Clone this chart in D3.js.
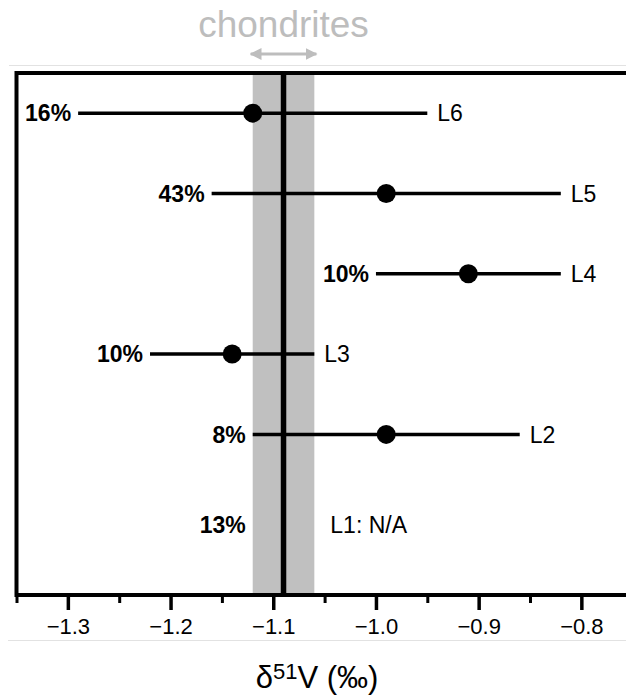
<!DOCTYPE html>
<html>
<head>
<meta charset="utf-8">
<script src="https://cdn.jsdelivr.net/npm/d3@7"></script>
<style>
  body { margin: 0; background: #fff; }
  svg { font-family: "Liberation Sans", Arial, Helvetica, sans-serif; }
</style>
</head>
<body>
<div id="chart"></div>
<script>
// groups, top to bottom
const levels = ["L6", "L5", "L4", "L3", "L2", "L1"];
const rowPos = [6, 5, 4, 3, 2, 1];
const percents = ["16%", "43%", "10%", "10%", "8%", "13%"];
const means = [-1.12, -0.99, -0.91, -1.14, -0.99, null];
const lows = [-1.29, -1.16, -1.00, -1.22, -1.12, null];
const highs = [-0.95, -0.82, -0.82, -1.06, -0.86, null];

// chondrite reference
const chondriteMean = -1.09;
const chondriteRange = [-1.12, -1.06];

const majorTicks = [-1.3, -1.2, -1.1, -1.0, -0.9, -0.8];
const minorTicks = [-1.35, -1.25, -1.15, -1.05, -0.95, -0.85, -0.75];

document.addEventListener('DOMContentLoaded', function() {
    const W = 626, H = 698;
    const svg = d3.select("#chart").append("svg")
        .attr("width", W)
        .attr("height", H);

    const x = d3.scaleLinear()
        .domain([-1.35, -0.75])
        .range([16.5, 632.7]);

    const y = d3.scaleLinear()
        .domain([0, 6.5])
        .range([595, 73]);

    const rows = levels.map((l, i) => ({
        level: l, pos: rowPos[i], pct: percents[i],
        mean: means[i], lo: lows[i], hi: highs[i]
    }));

    // faint page lines
    svg.append("line").attr("x1", 9).attr("x2", W).attr("y1", 65.5).attr("y2", 65.5)
        .attr("stroke", "#e2e2e2").attr("stroke-width", 1.2);
    svg.append("line").attr("x1", 8).attr("x2", W).attr("y1", 640.5).attr("y2", 640.5)
        .attr("stroke", "#e2e2e2").attr("stroke-width", 1.2);

    // chondrite band
    svg.append("rect")
        .attr("x", x(chondriteRange[0]))
        .attr("y", y(6.5))
        .attr("width", x(chondriteRange[1]) - x(chondriteRange[0]))
        .attr("height", y(0) - y(6.5))
        .attr("fill", "#c0c0c0");

    // chondrites label + arrow
    svg.append("text")
        .attr("x", x(chondriteMean))
        .attr("y", 37)
        .attr("text-anchor", "middle")
        .attr("font-size", 37)
        .attr("fill", "#bdbdbd")
        .text("chondrites");

    const defs = svg.append("defs");
    defs.append("marker")
        .attr("id", "ah")
        .attr("viewBox", "0 0 10 10")
        .attr("refX", 9).attr("refY", 5)
        .attr("markerWidth", 4).attr("markerHeight", 4)
        .attr("markerUnits", "strokeWidth")
        .attr("orient", "auto-start-reverse")
        .append("path")
        .attr("d", "M0,0L10,5L0,10z")
        .attr("fill", "#bdbdbd");

    svg.append("line")
        .attr("x1", x(chondriteRange[0]) - 2)
        .attr("x2", x(chondriteRange[1]) + 2)
        .attr("y1", 54).attr("y2", 54)
        .attr("stroke", "#bdbdbd")
        .attr("stroke-width", 3)
        .attr("marker-start", "url(#ah)")
        .attr("marker-end", "url(#ah)");

    // ranges
    const withData = rows.filter(d => d.mean !== null);
    svg.append("g")
        .selectAll("line")
        .data(withData)
        .join("line")
        .attr("x1", d => x(d.lo))
        .attr("x2", d => x(d.hi))
        .attr("y1", d => y(d.pos))
        .attr("y2", d => y(d.pos))
        .attr("stroke", "#000")
        .attr("stroke-width", 3.5);

    // chondrite mean line
    svg.append("line")
        .attr("x1", x(chondriteMean)).attr("x2", x(chondriteMean))
        .attr("y1", y(6.5)).attr("y2", y(0))
        .attr("stroke", "#000")
        .attr("stroke-width", 5.5);

    svg.append("g")
        .selectAll("circle")
        .data(withData)
        .join("circle")
        .attr("cx", d => x(d.mean))
        .attr("cy", d => y(d.pos))
        .attr("r", 9.5)
        .attr("fill", "#000");

    // percent labels (left) and group labels (right)
    const lx = d => d.mean !== null ? x(d.lo) : x(chondriteRange[0]);
    const rx = d => d.mean !== null ? x(d.hi) : x(chondriteRange[1]);
    const ry = d => y(d.pos) + (d.mean === null ? 10 : 0);

    svg.append("g")
        .selectAll("text")
        .data(rows)
        .join("text")
        .attr("x", d => lx(d) - 7)
        .attr("y", ry)
        .attr("dy", "0.36em")
        .attr("text-anchor", "end")
        .attr("font-size", 23)
        .attr("font-weight", "bold")
        .text(d => d.pct);

    svg.append("g")
        .selectAll("text")
        .data(rows)
        .join("text")
        .attr("x", d => rx(d) + (d.mean === null ? 16 : 10))
        .attr("y", ry)
        .attr("dy", "0.36em")
        .attr("font-size", 23)
        .text(d => d.mean === null ? d.level + ": N/A" : d.level);

    // frame (right side runs off the picture)
    svg.append("rect")
        .attr("x", x(-1.35))
        .attr("y", y(6.5))
        .attr("width", x(-0.75) + 10 - x(-1.35))
        .attr("height", y(0) - y(6.5))
        .attr("fill", "none")
        .attr("stroke", "#000")
        .attr("stroke-width", 4);

    // axes
    const gMinor = svg.append("g")
        .attr("transform", `translate(0,${y(0)})`)
        .call(d3.axisBottom(x).tickValues(minorTicks).tickSize(8).tickFormat(""));
    gMinor.select(".domain").remove();
    gMinor.selectAll(".tick line").attr("stroke", "#000").attr("stroke-width", 3);

    const gMajor = svg.append("g")
        .attr("transform", `translate(0,${y(0)})`)
        .call(d3.axisBottom(x).tickValues(majorTicks).tickSize(15).tickPadding(8)
            .tickFormat(d3.format(".1f")));
    gMajor.select(".domain").remove();
    gMajor.selectAll(".tick line").attr("stroke", "#000").attr("stroke-width", 3.5);
    gMajor.selectAll(".tick text")
        .attr("font-size", 22)
        .attr("font-family", "Liberation Sans, Arial, sans-serif")
        .attr("fill", "#000");

    // axis title
    const title = svg.append("text")
        .attr("x", 317)
        .attr("y", 688)
        .attr("text-anchor", "middle")
        .attr("font-size", 31);
    title.append("tspan").text("δ");
    title.append("tspan").attr("font-size", 22).attr("dy", -9).text("51");
    title.append("tspan").attr("dy", 9).text("V (‰)");
});
</script>
</body>
</html>
